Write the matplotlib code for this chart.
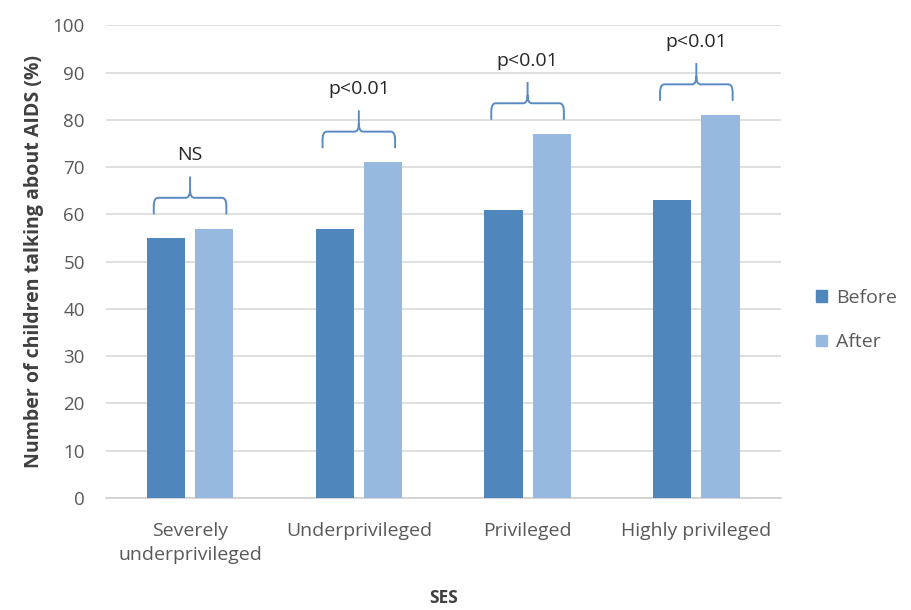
import numpy as np
import matplotlib.pyplot as plt
from matplotlib.path import Path
from matplotlib.patches import PathPatch, Patch

categories = ['Severely\nunderprivileged', 'Underprivileged', 'Privileged', 'Highly privileged']
before = [55, 57, 61, 63]
after = [57, 71, 77, 81]
labels = ['NS', 'p<0.01', 'p<0.01', 'p<0.01']

c_before = '#4f87bd'
c_after = '#97b9df'
c_brace = '#5a8ac4'
c_text = '#595959'

plt.rcParams['font.family'] = ['Open Sans', 'DejaVu Sans']

fig = plt.figure(figsize=(9.11, 6.10), dpi=100)
ax = fig.add_axes([0.116, 0.1836, 0.741, 0.775])

x = np.arange(len(categories))
w = 0.226
off = 0.143
ax.bar(x - off, before, w, color=c_before, zorder=3)
ax.bar(x + off, after, w, color=c_after, zorder=3)


def brace(ax, xc, half, y_end, y_mid, y_tip):
    # curly bracket opening downward, tip pointing up
    r = half * 0.12
    h = (y_mid - y_end) * 0.5
    verts = []
    codes = []
    for s in (-1, 1):
        xe = xc + s * half
        verts += [(xe, y_end), (xe, y_mid - h), (xe, y_mid), (xe - s * r, y_mid),
                  (xc + s * r, y_mid), (xc, y_mid), (xc, y_mid + h)]
        codes += [Path.MOVETO, Path.LINETO, Path.CURVE3, Path.CURVE3,
                  Path.LINETO, Path.CURVE3, Path.CURVE3]
    verts += [(xc, y_mid + h), (xc, y_tip)]
    codes += [Path.MOVETO, Path.LINETO]
    ax.add_patch(PathPatch(Path(verts, codes), fill=False, edgecolor=c_brace,
                           lw=1.4, zorder=4, capstyle='butt'))


for i in range(len(categories)):
    top = max(before[i], after[i])
    brace(ax, x[i], 0.215, top + 3, top + 6.5, top + 11)
    ax.text(x[i], top + 15.5, labels[i], ha='center', va='center',
            fontsize=14, color='#262626')

ax.set_xlim(-0.5, 3.5)
ax.set_ylim(0, 100)
ax.set_yticks(np.arange(0, 101, 10))
ax.set_xticks(x)
ax.set_xticklabels(categories, fontsize=14, color=c_text, linespacing=1.45)
ax.tick_params(axis='y', labelsize=13.5, labelcolor=c_text, length=0, pad=15)
ax.tick_params(axis='x', length=0, pad=17)
ax.grid(axis='y', color='#d9d9d9', lw=1.2, zorder=0)
for side in ['top', 'right', 'left']:
    ax.spines[side].set_visible(False)
ax.spines['bottom'].set_color('#d0d0d0')
ax.spines['bottom'].set_linewidth(1.2)

ax.set_ylabel('Number of children talking about AIDS (%)', fontsize=14,
              fontweight='bold', color='#404040', labelpad=6)
ax.set_xlabel('SES', fontsize=12.5, fontweight='bold', color='#404040', labelpad=18)

handles = [Patch(color=c_before, label='Before'), Patch(color=c_after, label='After')]
fig.legend(handles=handles, loc='center left', bbox_to_anchor=(0.877, 0.475),
           frameon=False, fontsize=14, labelcolor=c_text, handlelength=0.55,
           handleheight=0.55, handletextpad=0.45, labelspacing=1.35)

fig.savefig('out.png', dpi=100)
